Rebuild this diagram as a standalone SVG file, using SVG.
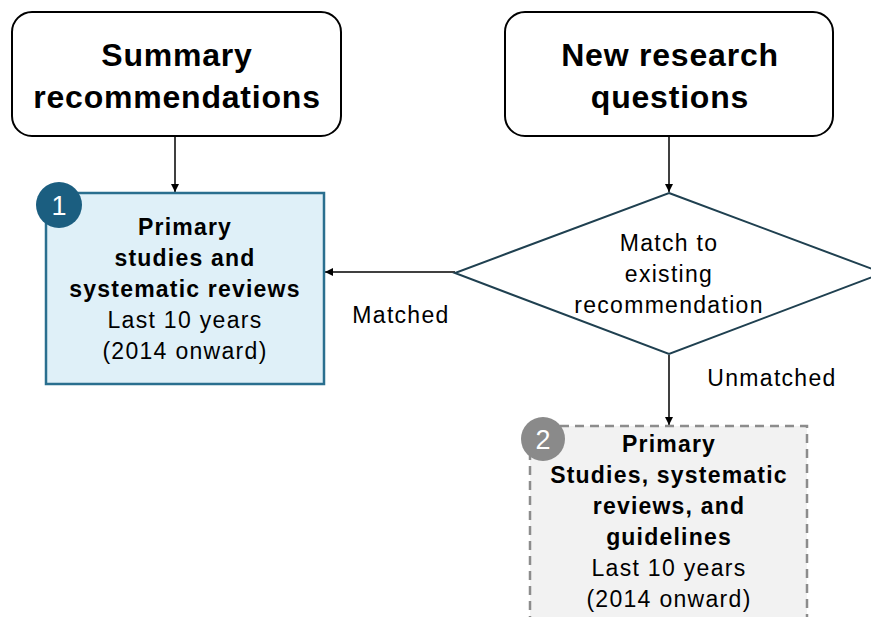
<svg xmlns="http://www.w3.org/2000/svg" width="871" height="617" viewBox="0 0 871 617">
<defs>
<marker id="arr" viewBox="0 0 10 10" refX="10" refY="5" markerWidth="9" markerHeight="8" markerUnits="userSpaceOnUse" orient="auto">
<path d="M0,0 L10,5 L0,10 Z" fill="#000"/>
</marker>
</defs>
<style>
.t{font-family:"Liberation Sans",Arial,sans-serif;fill:#000;text-anchor:middle}
.title{font-size:32px;font-weight:bold;letter-spacing:0.8px}
.b{font-size:23px;font-weight:bold;letter-spacing:1.2px}
.r{font-size:23px;letter-spacing:1.3px}
.conn{stroke:#000;stroke-width:1.5;fill:none;marker-end:url(#arr)}
.badge{font-family:"Liberation Sans",Arial,sans-serif;font-size:27px;fill:#fff;text-anchor:middle}
</style>
<rect width="871" height="617" fill="#fff"/>
<g id="connectors">
<line class="conn" x1="175" y1="137" x2="175" y2="192"/>
<line class="conn" x1="669" y1="137" x2="669" y2="192"/>
<line class="conn" x1="455" y1="272" x2="325" y2="272"/>
<line class="conn" x1="669" y1="355" x2="669" y2="425"/>
<text class="t r" x="401" y="323">Matched</text>
<text class="t r" x="772" y="386">Unmatched</text>
</g>
<g id="summary">
<rect x="12" y="12" width="329" height="124" rx="20" fill="#fff" stroke="#000" stroke-width="2"/>
<text class="t title" x="177" y="66">Summary</text>
<text class="t title" x="177" y="108">recommendations</text>
</g>
<g id="newq">
<rect x="505" y="12" width="328" height="124" rx="20" fill="#fff" stroke="#000" stroke-width="2"/>
<text class="t title" x="670" y="66">New research</text>
<text class="t title" x="670" y="108">questions</text>
</g>
<g id="box1">
<rect x="46" y="193" width="278" height="191" fill="#dff0f8" stroke="#2a6f8f" stroke-width="2.5"/>
<circle cx="59" cy="205" r="23" fill="#1b5e80"/>
<text class="badge" x="59" y="215">1</text>
<text class="t b" x="185" y="235">Primary</text>
<text class="t b" x="185" y="266">studies and</text>
<text class="t b" x="185" y="297">systematic reviews</text>
<text class="t r" x="185" y="328">Last 10 years</text>
<text class="t r" x="185" y="359">(2014 onward)</text>
</g>
<g id="decision">
<polygon points="669,193 883,273 669,354 455,273" fill="#fff" stroke="#1f4050" stroke-width="2"/>
<text class="t r" x="669" y="251">Match to</text>
<text class="t r" x="669" y="282">existing</text>
<text class="t r" x="669" y="313">recommendation</text>
</g>
<g id="box2">
<rect x="530" y="426" width="277" height="220" fill="#f2f2f2" stroke="#8c8c8c" stroke-width="2.5" stroke-dasharray="9,6"/>
<circle cx="543" cy="439" r="22" fill="#8a8a8a"/>
<text class="badge" x="543" y="449">2</text>
<text class="t b" x="669" y="452">Primary</text>
<text class="t b" x="669" y="483">Studies, systematic</text>
<text class="t b" x="669" y="514">reviews, and</text>
<text class="t b" x="669" y="545">guidelines</text>
<text class="t r" x="669" y="576">Last 10 years</text>
<text class="t r" x="669" y="607">(2014 onward)</text>
</g>
</svg>
